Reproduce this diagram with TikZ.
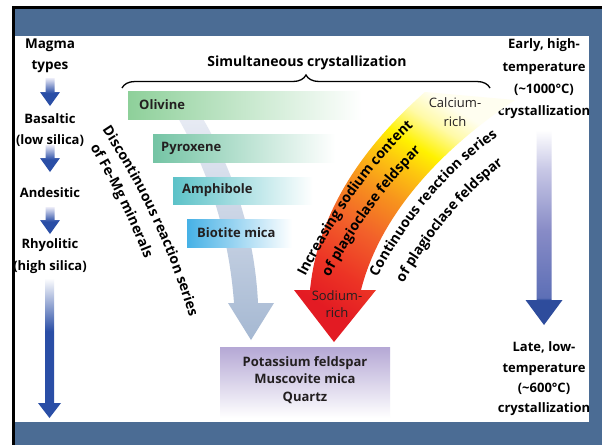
\documentclass[tikz,border=0pt]{standalone}
\usepackage{fontspec}
\setmainfont{Open Sans}
\usetikzlibrary{decorations.pathreplacing,decorations.text}

\definecolor{framebg}{RGB}{75,108,148}
\definecolor{arrowblue}{RGB}{42,78,166}
\definecolor{arrowtop}{RGB}{236,236,248}
\definecolor{rdark}{RGB}{46,76,156}
\definecolor{rmid1}{RGB}{93,111,182}
\definecolor{rmid2}{RGB}{135,139,198}
\definecolor{rmid3}{RGB}{200,200,230}
\definecolor{greytop}{RGB}{238,240,247}
\definecolor{greybot}{RGB}{165,184,210}
\definecolor{olivinec}{RGB}{142,208,154}
\definecolor{pyroxc}{RGB}{116,196,164}
\definecolor{amphc}{RGB}{92,194,200}
\definecolor{biotc}{RGB}{70,177,230}
\definecolor{boxtop}{RGB}{181,168,213}
\definecolor{mintext}{RGB}{35,31,32}
\definecolor{plred}{RGB}{227,27,35}
\definecolor{plred2}{RGB}{236,51,37}
\definecolor{plorange}{RGB}{242,97,42}
\definecolor{plamber}{RGB}{247,148,29}
\definecolor{plgold}{RGB}{253,199,15}
\definecolor{plyellow}{RGB}{255,242,0}
\definecolor{plpale}{RGB}{255,250,168}
\definecolor{plwhite}{RGB}{255,254,240}

\pgfdeclareverticalshading{smallarrow}{100bp}{color(0bp)=(arrowblue); color(25bp)=(arrowblue); color(48bp)=(arrowblue); color(75bp)=(arrowtop); color(100bp)=(arrowtop)}
\pgfdeclareverticalshading{longarrow}{100bp}{color(0bp)=(arrowblue); color(25bp)=(arrowblue); color(56bp)=(arrowblue); color(75bp)=(white); color(100bp)=(white)}
\pgfdeclareverticalshading{rightarrow}{100bp}{color(0bp)=(rdark); color(25bp)=(rdark); color(31.4bp)=(rdark); color(32bp)=(rmid1); color(49bp)=(rmid2); color(65bp)=(rmid3); color(75bp)=(white); color(100bp)=(white)}
\pgfdeclareverticalshading{plag}{100bp}{color(0bp)=(plred); color(25bp)=(plred); color(33bp)=(plred2); color(43bp)=(plorange); color(52bp)=(plamber); color(59bp)=(plgold); color(64bp)=(plyellow); color(70bp)=(plpale); color(75bp)=(plwhite); color(100bp)=(plwhite)}

\begin{document}
\begin{tikzpicture}[x=1pt,y=-1pt,
  lab/.style={font=\bfseries\fontsize{13}{21.5}\selectfont, align=center, inner sep=0pt, text=black},
  minlab/.style={font=\bfseries\fontsize{13}{15}\selectfont, text=mintext, anchor=west, inner sep=0pt},
  reglab/.style={font=\fontsize{13}{18}\selectfont, text=mintext, align=center, inner sep=0pt},
  curvetext/.style={decorate, decoration={text along path, text align=#1}},
]
\useasboundingbox (0,0) rectangle (602,445);
% frame
\fill[white] (0,0) rectangle (602,445);
\fill[black] (12,6) rectangle (602,445);
\fill[framebg] (15,9) rectangle (602,445);
\fill[white] (15,36) rectangle (589,422);

% left column
\node[lab, font=\bfseries\fontsize{13.5}{21.5}\selectfont] (magma) at (50,56) {Magma\\types};
\shade[shading=smallarrow] (45.5,78) -- (54.5,78) -- (54.5,92) -- (60,92) -- (50,106) -- (40,92) -- (45.5,92) -- cycle;
\node[lab] (basaltic) at (50,130) {Basaltic\\(low silica)};
\shade[shading=smallarrow] (45.5,145) -- (54.5,145) -- (54.5,158) -- (60,158) -- (50,172) -- (40,158) -- (45.5,158) -- cycle;
\node[lab] (andesitic) at (50,193) {Andesitic};
\shade[shading=smallarrow] (45.5,207) -- (54.5,207) -- (54.5,220) -- (60,220) -- (50,234) -- (40,220) -- (45.5,220) -- cycle;
\node[lab] (rhyolitic) at (50,256) {Rhyolitic\\(high silica)};
\shade[shading=longarrow] (45,278) -- (54,278) -- (54,403) -- (61,403) -- (49.5,418) -- (38,403) -- (45,403) -- cycle;

% right column
\node[lab, font=\bfseries\fontsize{13}{22.3}\selectfont] (early) at (544,79) {Early, high-\\temperature\\(\textasciitilde1000°C)\\crystallization};
\shade[shading=rightarrow] (536.5,130) -- (551.5,130) -- (551.5,300) -- (562.5,300) -- (544,325) -- (525.5,300) -- (536.5,300) -- cycle;
\node[lab, font=\bfseries\fontsize{13}{20.3}\selectfont] (late) at (544,379) {Late, low-\\temperature\\(\textasciitilde600°C)\\crystallization};

% heading and brace
\node[lab, font=\bfseries\fontsize{14}{16}\selectfont] (simul) at (307,63) {Simultaneous crystallization};
\draw[line width=1.3pt, decorate, decoration={brace, amplitude=13pt}] (122,88) -- (490,88);

% grey discontinuous arrow
\shade[top color=greytop, bottom color=greybot]
  (164,95) .. controls (200,150) and (228,220) .. (234,303)
  -- (228,303) -- (251,340) -- (274,303) -- (258,303)
  .. controls (254,220) and (224,148) .. (188,95) -- cycle;

% mineral bars
\shade[left color=olivinec, right color=white] (128,91) rectangle (362,119);
\shade[left color=pyroxc, right color=white] (153,134) rectangle (335,162);
\shade[left color=amphc, right color=white] (173,177) rectangle (313,204);
\shade[left color=biotc, right color=white] (187,219) rectangle (292,247);
\node[minlab] (olivine) at (139,105) {Olivine};
\node[minlab] (pyroxene) at (161,148) {Pyroxene};
\node[minlab] (amphibole) at (182,190) {Amphibole};
\node[minlab] (biotite) at (197,233) {Biotite mica};

% discontinuous text
\path[curvetext=left, decoration={text={|\bfseries\fontsize{14}{16}\selectfont|Discontinuous reaction series}}]
  (102,130) .. controls (136,181) and (171,250) .. (193,330);
\path[curvetext=left, decoration={text={|\bfseries\fontsize{14}{16}\selectfont|of Fe-Mg minerals}}]
  (90,147) .. controls (120,197) and (151,263) .. (171,341);

% plagioclase arrow
\shade[shading=plag, shading angle=-32]
  (425,92) .. controls (365,145) and (318,210) .. (310,290)
  -- (294,290) -- (334,342) -- (376,290) -- (361,290)
  .. controls (380,215) and (440,150) .. (515,100) -- cycle;

\path[curvetext=center, decoration={text={|\bfseries\fontsize{14}{16}\selectfont|Increasing sodium content}}]
  (299,289) .. controls (329,229) and (369,164) .. (424,117);
\path[curvetext=center, decoration={text={|\bfseries\fontsize{14}{16}\selectfont|of plagioclase feldspar}}]
  (317,301) .. controls (347,241) and (387,179) .. (441,133);

\path[curvetext=center, decoration={text={|\bfseries\fontsize{14}{16}\selectfont|Continuous reaction series}}]
  (371,289) .. controls (399,234) and (444,169) .. (509,129);
\path[curvetext=center, decoration={text={|\bfseries\fontsize{14}{16}\selectfont|of plagioclase feldspar}}]
  (393,302) .. controls (421,249) and (463,189) .. (521,152);

\node[reglab, font=\fontsize{13}{19}\selectfont] (calcium) at (455,112) {Calcium-\\rich};
\node[reglab, font=\fontsize{13}{17}\selectfont] (sodium) at (337,304) {Sodium-\\rich};

% final box
\shade[top color=boxtop, bottom color=white] (220,347) rectangle (390,418);
\node[lab, font=\bfseries\fontsize{13}{17.5}\selectfont, text=mintext] (final) at (305,380) {Potassium feldspar\\Muscovite mica\\Quartz};
\end{tikzpicture}
\end{document}
